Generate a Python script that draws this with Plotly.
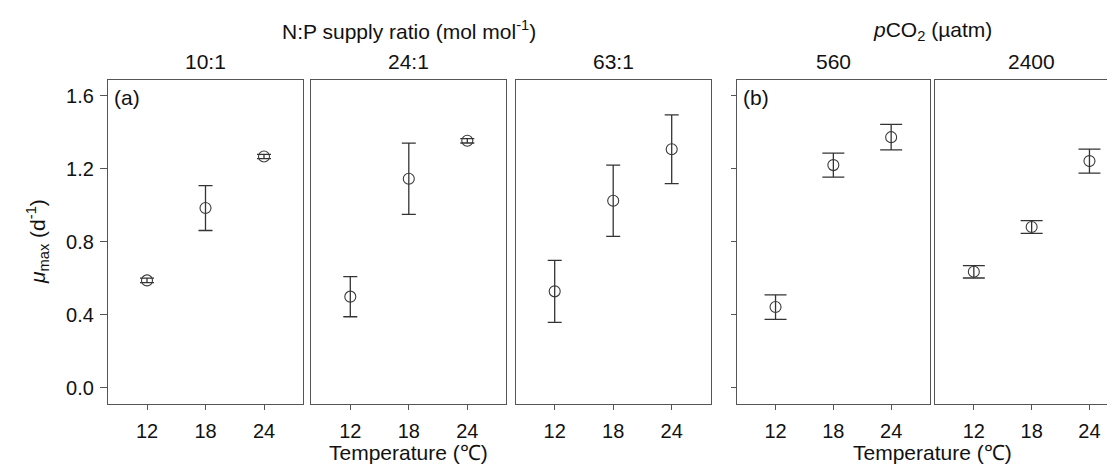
import plotly.graph_objects as go

# ---------------- data ----------------
temperature = [12, 18, 24]
temp_ticks = [12, 18, 24]

np_labels = ["10:1", "24:1", "63:1"]
np_mu = [
    [0.589, 0.985, 1.267],
    [0.500, 1.145, 1.353],
    [0.529, 1.025, 1.307],
]
np_err = [
    [0.012, 0.123, 0.012],
    [0.110, 0.195, 0.012],
    [0.170, 0.195, 0.188],
]

co2_labels = ["560", "2400"]
co2_mu = [
    [0.443, 1.220, 1.373],
    [0.636, 0.881, 1.242],
]
co2_err = [
    [0.067, 0.066, 0.070],
    [0.034, 0.035, 0.066],
]

y_ticks = [0.0, 0.4, 0.8, 1.2, 1.6]
y_ticktext = ["0.0", "0.4", "0.8", "1.2", "1.6"]

# ---------------- layout geometry (pixels) ----------------
W, H = 1115, 472
FONT = "Arial, Liberation Sans, Helvetica, sans-serif"
LINE = "#555555"
MARK = "#3a3a3a"
TXT = "#111111"
FS_TICK = 20
FS_TITLE = 21

panel_px = [
    (100.0, 295.0),
    (303.3, 498.3),
    (507.7, 702.7),
    (729.0, 921.7),
    (927.3, 1115.0),
]
top_px, bot_px = 71.7, 395.7
ydom = [(H - bot_px) / H, (H - top_px) / H]

def fx(px):
    return px / W

def fy(py):
    return (H - py) / H

fig = go.Figure()

series = [(np_mu[i], np_err[i], 7) for i in range(3)] + \
         [(co2_mu[i], co2_err[i], 11) for i in range(2)]

for k, (mu, err, cap) in enumerate(series):
    ax = "" if k == 0 else str(k + 1)
    fig.add_trace(go.Scatter(
        x=temperature, y=mu,
        mode="markers",
        marker=dict(symbol="circle-open", size=11, color=MARK, line=dict(width=1.1, color=MARK)),
        error_y=dict(type="data", array=err, visible=True, color="#333333", thickness=1.3, width=cap),
        xaxis="x" + ax, yaxis="y" + ax, showlegend=False, hoverinfo="x+y",
    ))

layout = dict(
    width=W, height=H,
    margin=dict(l=0, r=0, t=0, b=0),
    paper_bgcolor="white", plot_bgcolor="white",
    font=dict(family=FONT, size=FS_TICK, color=TXT),
    showlegend=False,
)

for k, (l, r) in enumerate(panel_px):
    name = "" if k == 0 else str(k + 1)
    last = (k == 4)
    if last:
        unit = (921.7 - 729.0) / 20.0
        xr = [8, 8 + (r - l) / unit]
    else:
        xr = [8, 28]
    layout["xaxis" + name] = dict(
        domain=[fx(l), fx(r)], range=xr, anchor="y" + name,
        tickvals=temp_ticks, ticktext=[str(t) for t in temp_ticks],
        ticks="outside", ticklen=5, tickwidth=1, tickcolor=LINE,
        showline=True, linecolor=LINE, linewidth=1.2, mirror=True,
        showgrid=False, zeroline=False, fixedrange=True,
        tickfont=dict(size=FS_TICK, color=TXT), ticklabelstandoff=4,
    )
    ycfg = dict(
        domain=ydom, range=[-0.086, 1.6875], anchor="x" + name,
        tickvals=y_ticks, ticktext=y_ticktext,
        showline=True, linecolor=LINE, linewidth=1.2, mirror=(not last),
        showgrid=False, zeroline=False, fixedrange=True,
        tickfont=dict(size=FS_TICK, color=TXT),
    )
    if k == 0:
        ycfg.update(ticks="outside", ticklen=7, tickwidth=1, tickcolor=LINE,
                    showticklabels=True, ticklabelstandoff=2)
    elif k == 3:
        ycfg.update(ticks="outside", ticklen=5, tickwidth=1, tickcolor=LINE, showticklabels=False)
    else:
        ycfg.update(ticks="", showticklabels=False)
    layout["yaxis" + name] = ycfg

fig.update_layout(**layout)

ann = []
def add_text(text, xpx, ypx, xanchor="center", yanchor="middle", size=FS_TITLE, angle=0):
    ann.append(dict(text=text, x=fx(xpx), y=fy(ypx), xref="paper", yref="paper",
                    xanchor=xanchor, yanchor=yanchor, showarrow=False, textangle=angle,
                    font=dict(family=FONT, size=size, color=TXT)))

# group headers
add_text("N:P supply ratio (mol mol<sup>-1</sup>)", (panel_px[0][0] + panel_px[2][1]) / 2, 22)
add_text("<i>p</i>CO<sub>2</sub> (µatm)", (panel_px[3][0] + 1120.0) / 2, 23)

# panel headers
for i, lab in enumerate(np_labels):
    l, r = panel_px[i]
    add_text(lab, (l + r) / 2, 53)
b_centers = [(panel_px[3][0] + panel_px[3][1]) / 2, (panel_px[4][0] + 1120.0) / 2]
for lab, c in zip(co2_labels, b_centers):
    add_text(lab, c, 53)

# panel letters
add_text("(a)", panel_px[0][0] + 4, 89, xanchor="left", size=21)
add_text("(b)", panel_px[3][0] + 4, 89, xanchor="left", size=21)

# axis titles
add_text("Temperature (℃)", (panel_px[1][0] + panel_px[1][1]) / 2, 444)
add_text("Temperature (℃)", (panel_px[3][0] + 1120.0) / 2, 444)
add_text("<i>μ</i><sub>max</sub> (d<sup>-1</sup>)", 29, 234, angle=-90)

fig.update_layout(annotations=ann)

fig.write_html("out.html")
